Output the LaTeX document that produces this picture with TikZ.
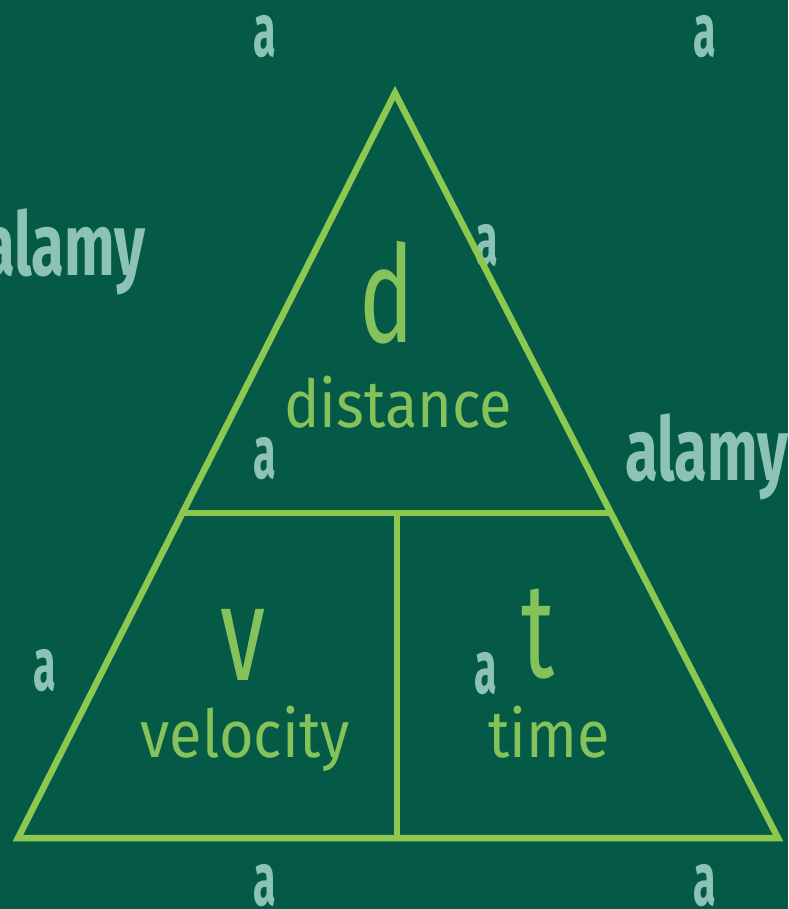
\documentclass[tikz,border=0pt]{standalone}
\usepackage{fontspec}
\setmainfont{Fira Sans}
\usetikzlibrary{calc}
\definecolor{bg}{HTML}{045A46}
\definecolor{lime}{HTML}{8CC850}
\definecolor{txt}{HTML}{86C25A}
\definecolor{wm}{HTML}{8CC3B4}
\tikzset{
  edge/.style={draw=lime, line width=6.5pt, line join=miter, line cap=butt},
  bigletter/.style={text=txt, anchor=base, inner sep=0pt, xscale=0.68, transform shape, font=\fontsize{135}{135}\selectfont},
  word/.style={text=txt, anchor=base, inner sep=0pt, xscale=0.9, transform shape, font=\fontsize{66}{66}\selectfont},
  wmark/.style={text=wm, anchor=base, inner sep=0pt, xscale=0.55, transform shape, font=\bfseries\fontsize{75}{75}\selectfont},
  wlogo/.style={text=wm, anchor=base west, inner sep=0pt, xscale=0.68, transform shape, font=\bfseries\fontsize{88}{88}\selectfont}
}
\begin{document}
\begin{tikzpicture}[x=1pt,y=-1pt]
\useasboundingbox (0,0) rectangle (788,909);
\clip (0,0) rectangle (788,909);
\fill[bg] (0,0) rectangle (788,909);
% watermarks
\node[wmark] (w1) at (265,57) {a};
\node[wmark] (w2) at (705,57) {a};
\node[wmark] (w3) at (487,265) {a};
\node[wmark] (w4) at (265,478) {a};
\node[wmark] (w5) at (45,690) {a};
\node[wmark] (w6) at (486,693) {a};
\node[wmark] (w7) at (265,905) {a};
\node[wmark] (w8) at (705,905) {a};
\node[wlogo] (l1) at (-18,275) {alamy};
\node[wlogo] (l2) at (625,480) {alamy};
% triangle
\coordinate (A) at (395,93);
\coordinate (B) at (18,838);
\coordinate (C) at (778,838);
\coordinate (L) at ($(A)!0.5638!(B)$);
\coordinate (R) at ($(A)!0.5638!(C)$);
\coordinate (M) at ($(L)!0.5!(R)$);
\coordinate (Mb) at (397,838);
\draw[edge] (A) -- (B) -- (C) -- cycle;
\draw[edge] (L) -- (R);
\draw[edge] (397,512) -- (Mb);
% labels
\node[bigletter] (d) at (387,342) {d};
\node[word] (dist) at (398,427) {distance};
\node[bigletter] (v) at (243,680) {v};
\node[word] (vel) at (245,757) {velocity};
\node[bigletter] (t) at (538,677) {t};
\node[word] (time) at (549,757) {time};
\end{tikzpicture}
\end{document}
